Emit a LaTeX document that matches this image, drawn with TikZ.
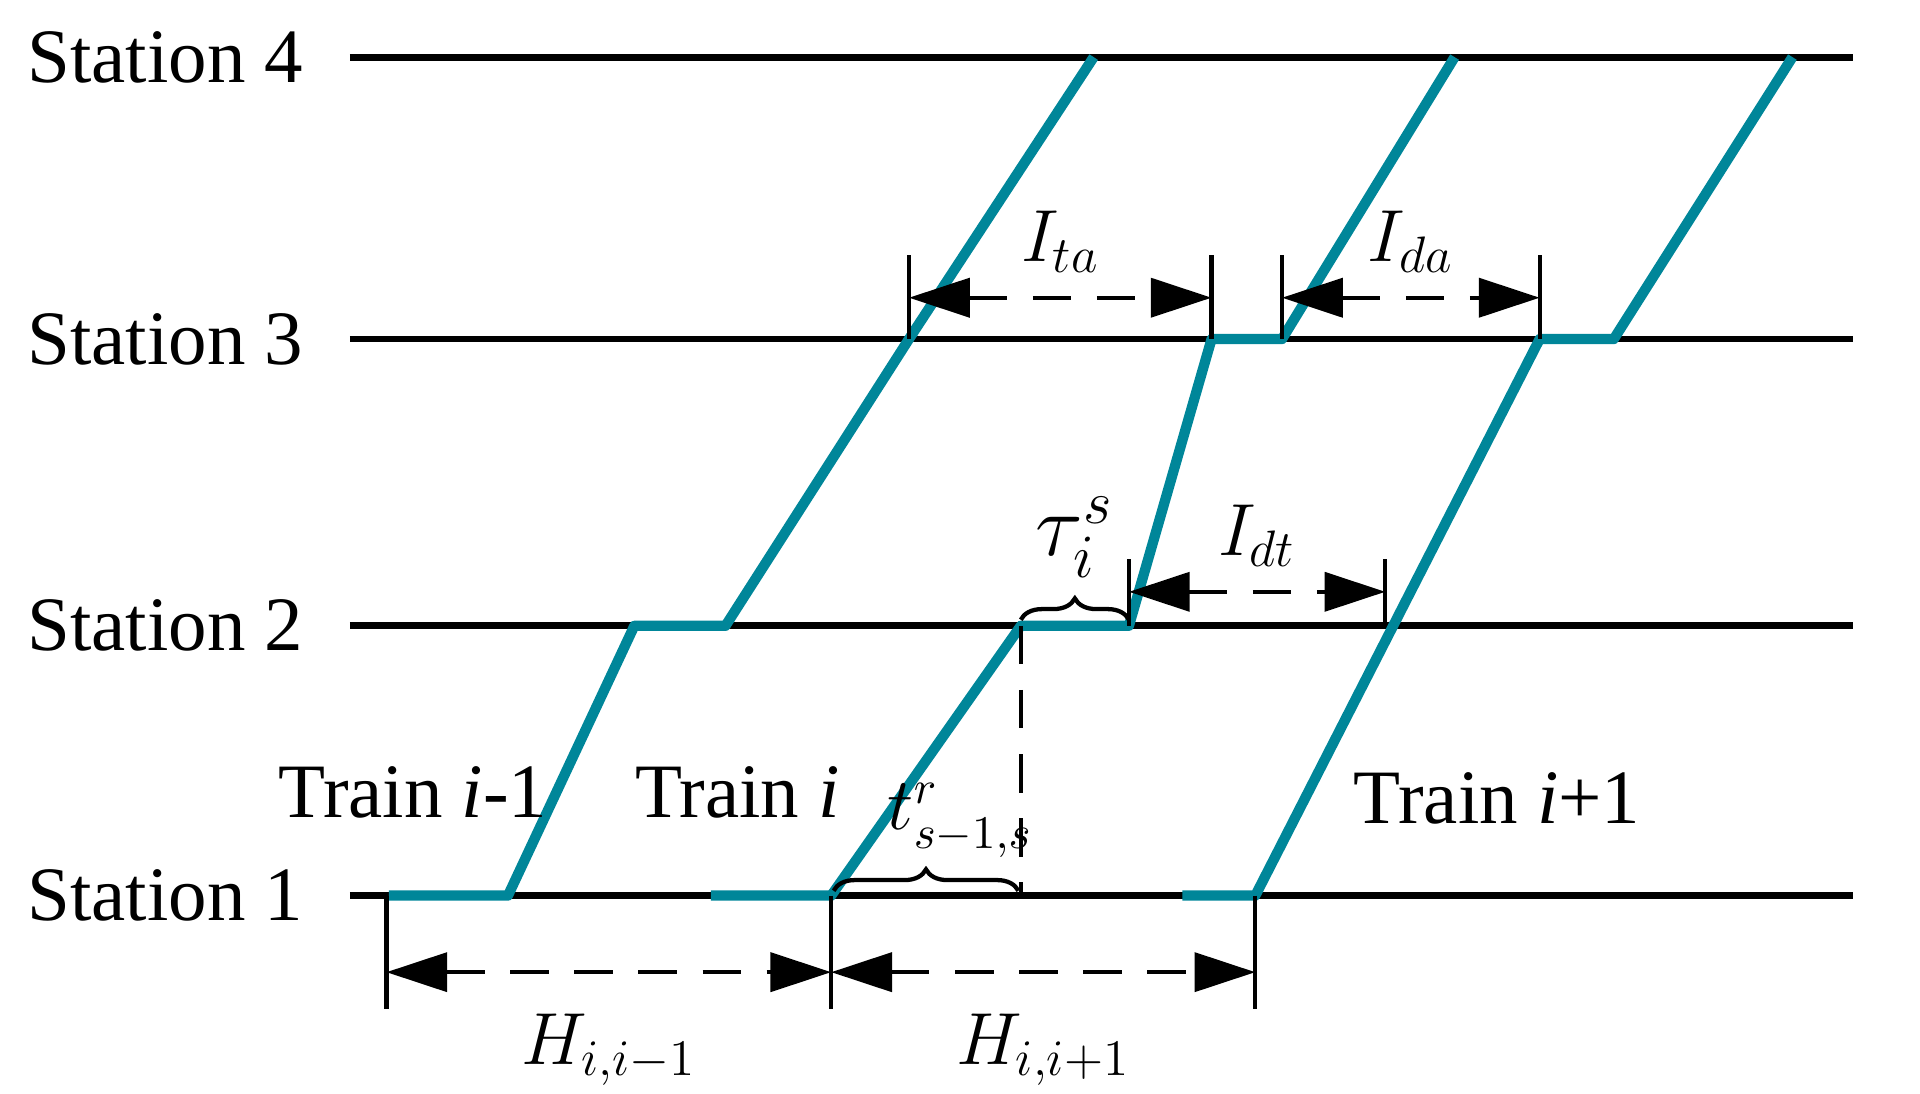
\documentclass[tikz,border=0pt]{standalone}
\usepackage{fontspec}
\setmainfont{Liberation Serif}
\usetikzlibrary{arrows.meta, decorations.pathreplacing, positioning}
\definecolor{trainc}{RGB}{0,134,153}
\tikzset{
	x=0.01cm, y=-0.01cm,
	station/.style={line width=1.6pt},
	train/.style={line width=2.4pt, color=trainc, line join=round},
	tick/.style={line width=1pt},
	dim/.style={line width=1pt, dashed, dash pattern=on 9pt off 6pt, {Triangle[length=5mm,width=3.2mm]}-{Triangle[length=5mm,width=3.2mm]}},
	lab/.style={font=\fontsize{18}{21}\selectfont},
	brc/.style={line width=1pt, decorate, decoration={brace, amplitude=5pt}}}

\begin{document}
\begin{tikzpicture}
		
		\useasboundingbox (0,0) rectangle (1580,900);
		
		% stations
		\foreach \k/\y in {1/737, 2/515, 3/279, 4/47} {
			\coordinate (s\k) at (288,\y);
			\coordinate (e\k) at (1525,\y);
			\node[lab, anchor=west, inner sep=0pt] (n\k) at (22,\y) {Station \k};
			\draw[station] (s\k) -- (e\k);
		}
		
		% trains
		\draw[train] (320,737) -- (418,737) -- (522,515) -- (597,515) -- (748,279) -- (900,47);
		\draw[train] (585,737) -- (684,737) -- (840,515) -- (929,515) -- (997,279) -- (1055,279) -- (1197,47);
		\draw[train] (973,737) -- (1033,737) -- (1267,279) -- (1328,279) -- (1475,47);
		
		\node[lab] (ta) at (340,652) {Train \textit{i}-1};
		\node[lab] (tb) at (607,652) {Train \textit{i}};
		\node[lab] (tc) at (1232,657) {Train \textit{i}+1};
		
		% headways
		\coordinate (h0) at (318,800);
		\coordinate (h1) at (684,800);
		\coordinate (h2) at (1033,800);
		\foreach \x in {318, 684, 1033}
			\draw[tick] (\x,737) -- (\x,830);
		\draw[dim] (h0) -- node[lab, below=6pt] {$H_{i,i-1}$} (h1);
		\draw[dim] (h1) -- node[lab, below=6pt] {$H_{i,i+1}$} (h2);
		
		% intervals
		\foreach \x in {748, 997, 1055, 1267}
			\draw[tick] (\x,210) -- (\x,279);
		\coordinate (a0) at (748,245);
		\coordinate (a1) at (997,245);
		\coordinate (a2) at (1055,245);
		\coordinate (a3) at (1267,245);
		\draw[dim] (a0) -- node[lab, above=2pt] {$I_{ta}$} (a1);
		\draw[dim] (a2) -- node[lab, above=2pt] {$I_{da}$} (a3);
		\coordinate (d0) at (929,487);
		\coordinate (d1) at (1140,487);
		\draw[tick] (929,460) -- (929,515);
		\draw[tick] (1140,460) -- (1140,515);
		\draw[dim] (d0) -- node[lab, above=2pt] {$I_{dt}$} (d1);
		
		% dwell and run
		\draw[tick, dashed, dash pattern=on 9pt off 6pt] (840,515) -- (840,737);
		\draw[brc] (840,510) -- node[lab, above=6pt] {\fontsize{22}{24}\selectfont$\tau_i^s$} (929,510);
		\draw[brc] (686,733) -- node[lab, above=4pt, xshift=8pt, font=\fontsize{16}{18}\selectfont] {$t_{s-1,s}^r$} (838,733);
			
	\end{tikzpicture}
\end{document}
